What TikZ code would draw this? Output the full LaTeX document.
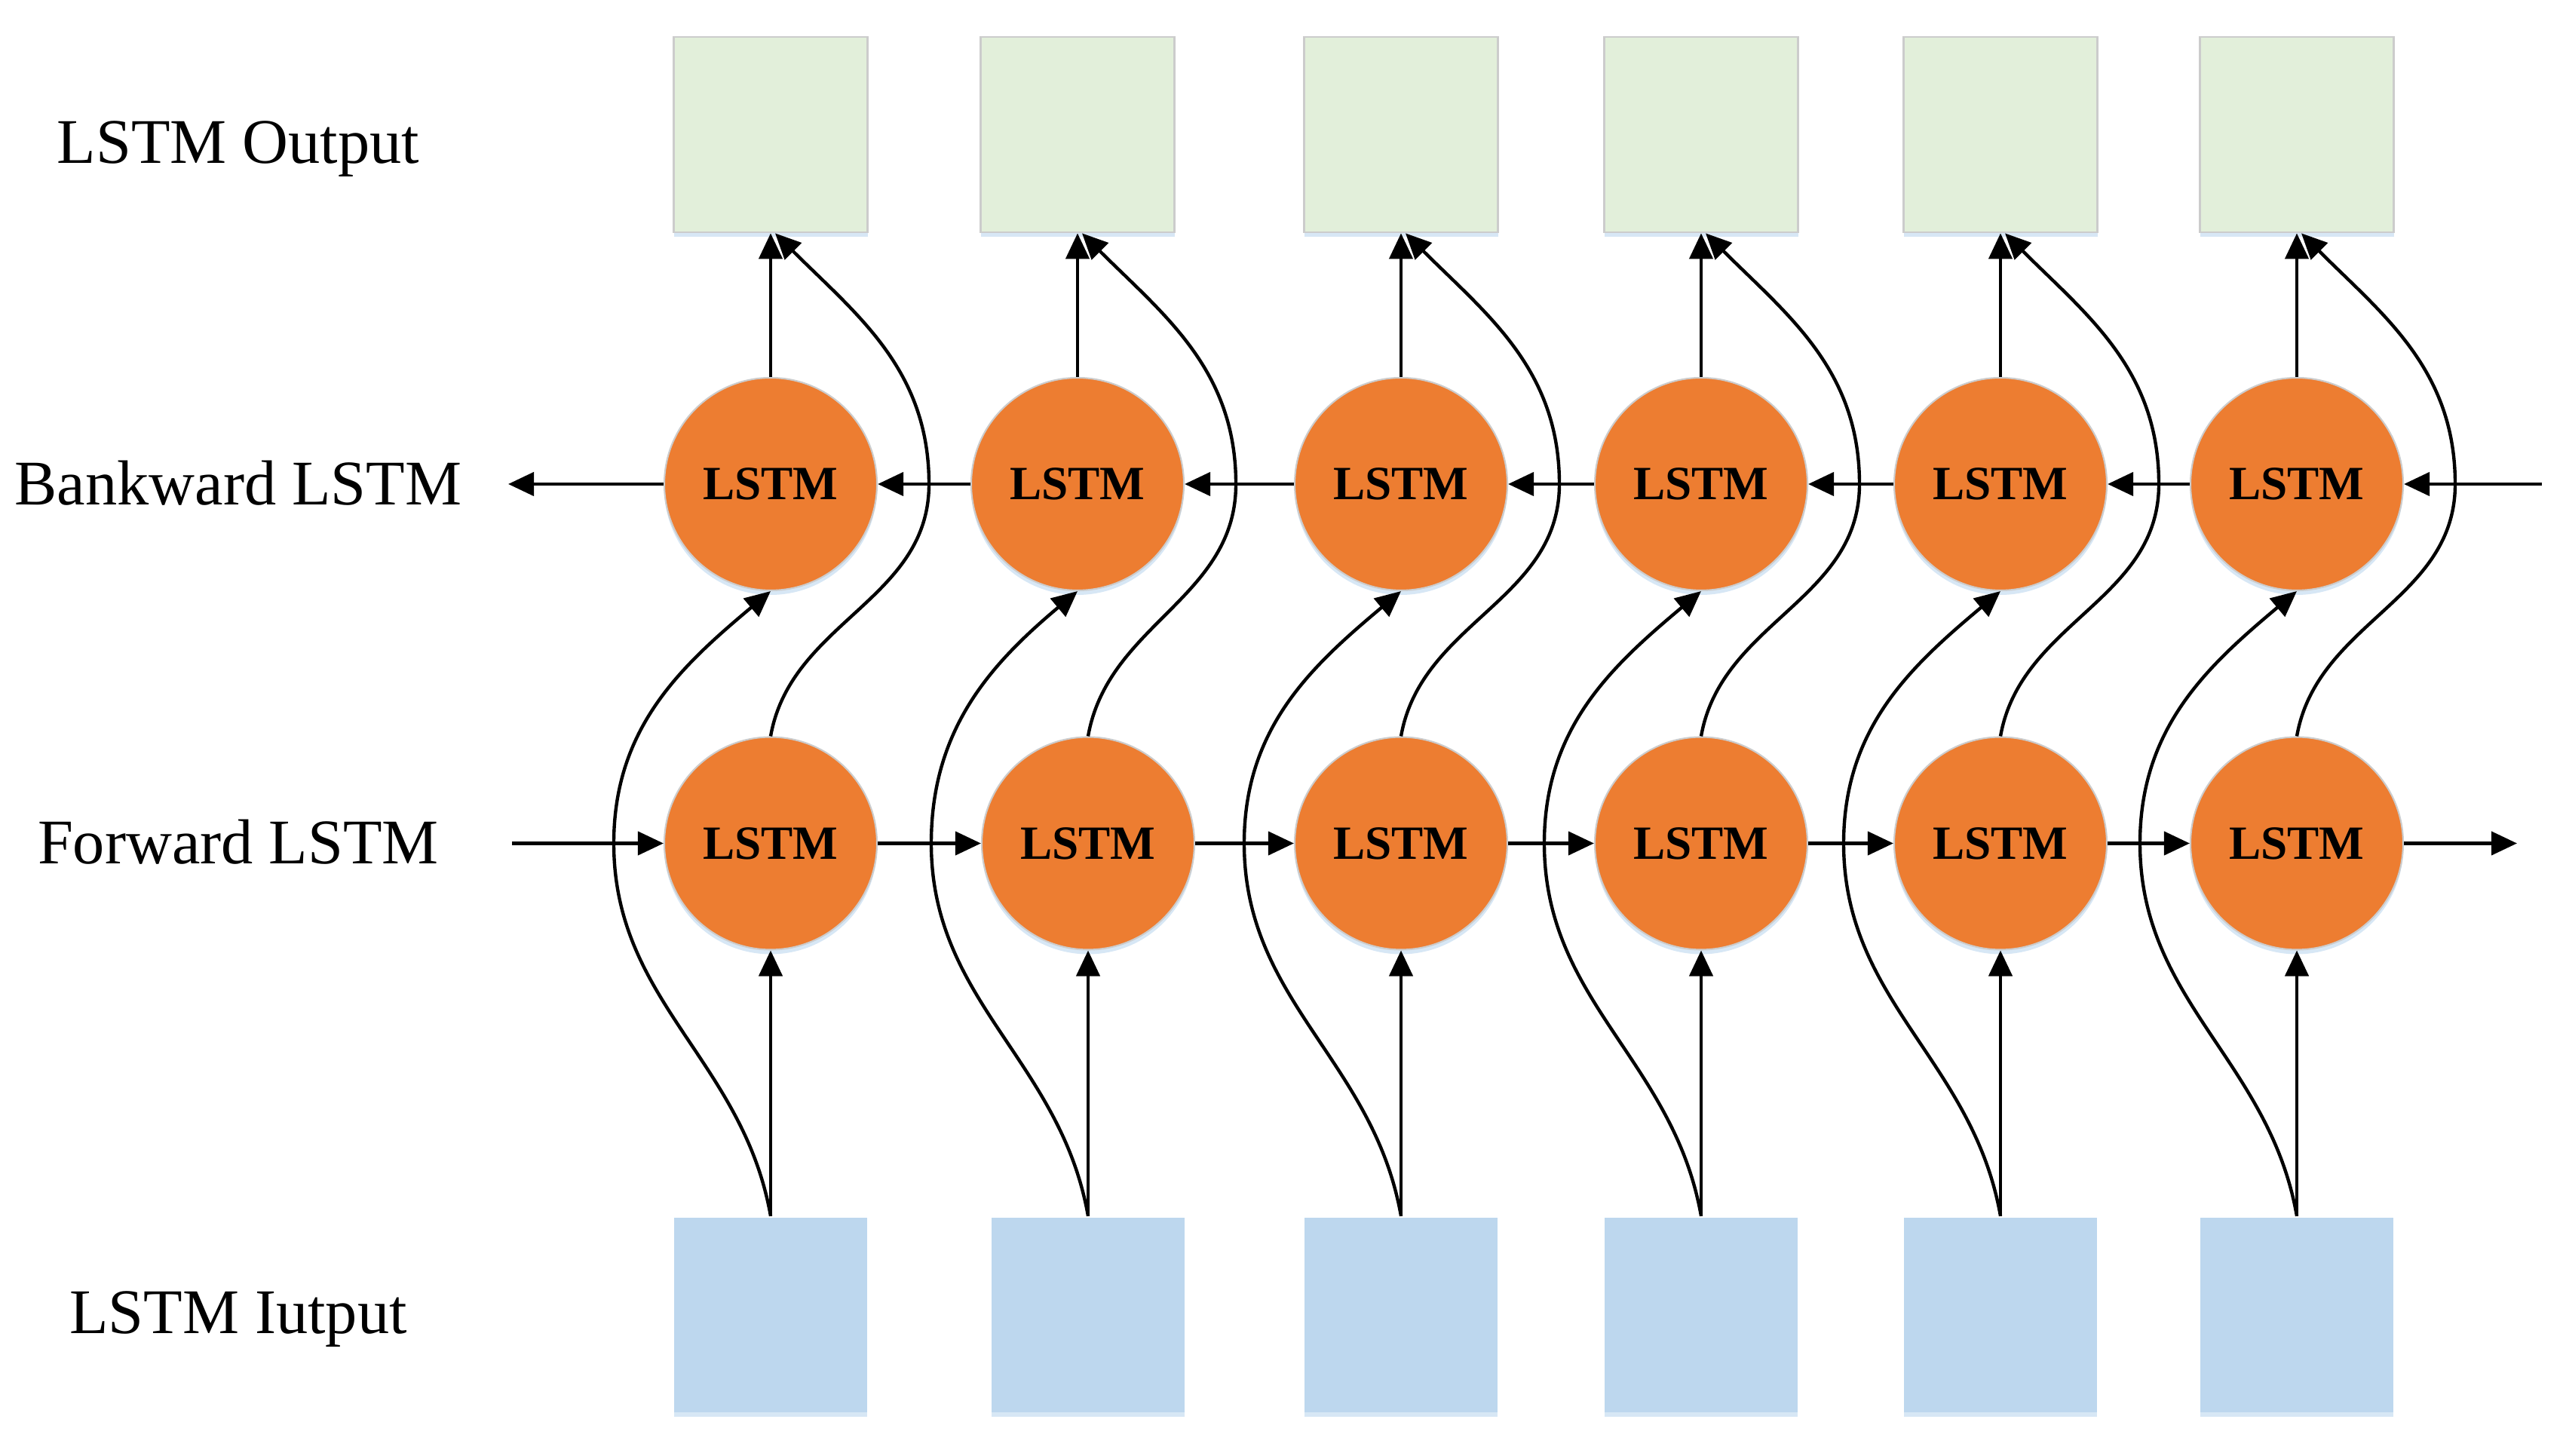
\documentclass[tikz,border=0pt]{standalone}
\usepackage{fontspec}
\setmainfont{Liberation Serif}
\usetikzlibrary{arrows.meta,shadows}
\definecolor{lstmorange}{HTML}{ED7D31}
\definecolor{outgreen}{HTML}{E2EFDA}
\definecolor{inblue}{HTML}{BDD7EE}

\begin{document}
\begin{tikzpicture}[
    >={Triangle[length=0.34cm,width=0.31cm]},
    line width=1.25pt,
    glow/.style={drop shadow={shadow xshift=0pt, shadow yshift=-0.06cm,
      fill=inblue, opacity=0.6}},
    cell/.style={circle, draw=gray!40, line width=0.6pt, fill=lstmorange, glow,
      minimum size=2.82cm, inner sep=0pt, font=\fontsize{18}{22}\selectfont\bfseries},
    outbox/.style={draw=gray!40, line width=0.8pt, fill=outgreen, glow,
      minimum width=2.57cm, minimum height=2.59cm},
    inbox/.style={fill=inblue, glow, minimum width=2.56cm, minimum height=2.58cm},
    rowlabel/.style={anchor=base, font=\fontsize{24}{29}\selectfont}
  ]
  \useasboundingbox (0,0) rectangle (33.99,19.31);

  \node[rowlabel] (lo) at (3.16,17.14) {LSTM Output};
  \node[rowlabel] (lb) at (3.16,12.61) {Bankward LSTM};
  \node[rowlabel] (lf) at (3.16,7.85) {Forward LSTM};
  \node[rowlabel] (li) at (3.16,1.62) {LSTM Iutput};

  \foreach \n/\xb/\xf in {1/10.22/10.22, 2/14.29/14.43, 3/18.58/18.58,
                          4/22.56/22.56, 5/26.53/26.53, 6/30.46/30.46} {
    \node[outbox] (o\n) at (\xb,17.525) {};
    \node[cell] (b\n) at (\xb,12.89) {LSTM};
    \node[cell] (f\n) at (\xf,8.125) {LSTM};
    \node[inbox] (i\n) at (\xf,1.87) {};
  }

  \coordinate (fin) at (6.79,8.125);
  \coordinate (fout) at (33.38,8.125);
  \coordinate (bin) at (33.71,12.89);
  \coordinate (bout) at (6.74,12.89);

  \draw[->] (fin) -- (f1);
  \draw[->] (f6) -- (fout);
  \draw[->] (bin) -- (b6);
  \draw[->] (b1) -- (bout);
  \foreach \n/\m in {1/2,2/3,3/4,4/5,5/6} {
    \draw[->] (f\n) -- (f\m);
    \draw[->] (b\m) -- (b\n);
  }

  \foreach \n in {1,...,6} {
    \draw[->] (i\n.north) -- (f\n.south);
    \draw[->] (b\n.north) -- (o\n.south);
    \draw[->] (i\n.north) to[out=100,in=-90] ([xshift=-2.08cm]f\n.center)
      to[out=90,in=220] (b\n.south);
    \draw[->] (f\n.north) to[out=80,in=-90] ([xshift=2.1cm]b\n.center)
      to[out=90,in=-45] ([xshift=0.6mm]o\n.south);
  }
\end{tikzpicture}
\end{document}
